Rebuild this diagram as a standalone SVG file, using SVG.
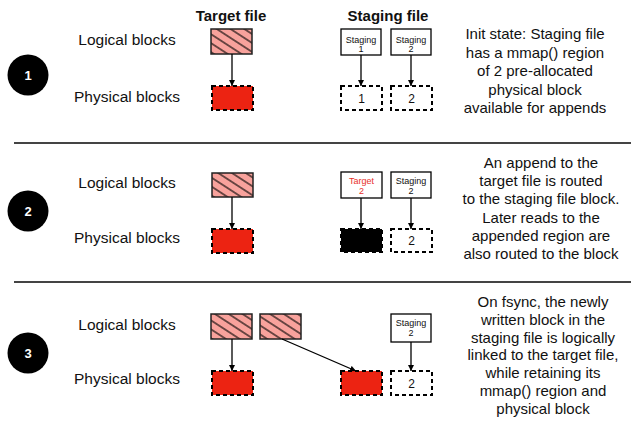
<svg xmlns="http://www.w3.org/2000/svg" width="631" height="421" viewBox="0 0 631 421">
<style>
text{font-family:"Liberation Sans",Arial,Helvetica,sans-serif;fill:#111}
.hdr{font-size:15px;font-weight:bold;text-anchor:middle}
.lbl{font-size:15.5px;text-anchor:middle}
.desc{font-size:15px;text-anchor:middle}
.num{font-size:13px;font-weight:bold;fill:#fff;text-anchor:middle}
.sm{font-size:9px;text-anchor:middle}
.dn{font-size:12px;text-anchor:middle}
.hatch{fill:url(#hatch);stroke:#222;stroke-width:1.5}
.phys{fill:#EC2312;stroke:#000;stroke-width:2;stroke-dasharray:4 3}
.empty{fill:#fff;stroke:#000;stroke-width:2;stroke-dasharray:4 3}
.black{fill:#000;stroke:#000;stroke-width:2;stroke-dasharray:4 3}
.box{fill:#fff;stroke:#000;stroke-width:1.3}
.conn{stroke:#000;stroke-width:1.3;fill:none;marker-end:url(#arr)}
.sep{stroke:#444;stroke-width:1.8}
</style>
<defs>
<pattern id="hatch" patternUnits="userSpaceOnUse" width="7.5" height="7.5" patternTransform="rotate(33)">
<rect width="7.5" height="7.5" fill="#F8A29C"/>
<line x1="0" y1="3.75" x2="7.5" y2="3.75" stroke="#000" stroke-width="1.1"/>
</pattern>
<marker id="arr" markerUnits="userSpaceOnUse" markerWidth="7" markerHeight="7" refX="6" refY="3" orient="auto">
<path d="M0,0 L6,3 L0,6 z" fill="#000"/>
</marker>
</defs>
<rect width="631" height="421" fill="#fff"/>

<g id="separators">
<line class="sep" x1="14" y1="143" x2="631" y2="143"/>
<line class="sep" x1="14" y1="282" x2="631" y2="282"/>
</g>

<g id="headers">
<text class="hdr" x="231" y="21">Target file</text>
<text class="hdr" x="388" y="21">Staging file</text>
</g>

<!-- Panel 1 -->
<g id="step1">
<circle cx="28" cy="75" r="20.5" fill="#000"/>
<text class="num" x="28" y="80">1</text>
</g>
<g id="labels1">
<text class="lbl" x="127" y="45">Logical blocks</text>
<text class="lbl" x="127" y="102">Physical blocks</text>
</g>
<g id="p1-target-logical"><rect class="hatch" x="211" y="29" width="41" height="25"/></g>
<g id="p1-target-physical"><rect class="phys" x="212" y="86" width="41" height="24"/></g>
<g id="p1-staging1"><rect class="box" x="341" y="29" width="40" height="26"/><text class="sm" x="361" y="42.5">Staging</text><text class="sm" x="361" y="51.5">1</text></g>
<g id="p1-staging2"><rect class="box" x="391" y="29" width="40" height="26"/><text class="sm" x="411" y="42.5">Staging</text><text class="sm" x="411" y="51.5">2</text></g>
<g id="p1-phys1"><rect class="empty" x="341" y="86" width="41" height="24"/><text class="dn" x="361.5" y="102.5">1</text></g>
<g id="p1-phys2"><rect class="empty" x="391" y="86" width="41" height="24"/><text class="dn" x="411.5" y="102.5">2</text></g>
<g id="desc1">
<text class="desc" x="535" y="39">Init state: Staging file</text>
<text class="desc" x="535" y="57.5">has a mmap() region</text>
<text class="desc" x="535" y="76">of 2 pre-allocated</text>
<text class="desc" x="535" y="94.5">physical block</text>
<text class="desc" x="535" y="113">available for appends</text>
</g>

<!-- Panel 2 -->
<g id="step2">
<circle cx="28" cy="211" r="20.5" fill="#000"/>
<text class="num" x="28" y="216">2</text>
</g>
<g id="labels2">
<text class="lbl" x="127" y="188">Logical blocks</text>
<text class="lbl" x="127" y="243">Physical blocks</text>
</g>
<g id="p2-target-logical"><rect class="hatch" x="212" y="173" width="41" height="24"/></g>
<g id="p2-target-physical"><rect class="phys" x="212" y="229" width="41" height="24"/></g>
<g id="p2-target2"><rect class="box" x="341" y="172" width="41" height="26"/><text class="sm" x="361.5" y="184" style="fill:#E8302A">Target</text><text class="sm" x="361.5" y="193.5" style="fill:#E8302A">2</text></g>
<g id="p2-staging2"><rect class="box" x="391" y="172" width="40" height="26"/><text class="sm" x="411" y="184">Staging</text><text class="sm" x="411" y="193.5">2</text></g>
<g id="p2-phys1"><rect class="black" x="341" y="229" width="41" height="23"/></g>
<g id="p2-phys2"><rect class="empty" x="391" y="229" width="41" height="23"/><text class="dn" x="411.5" y="245">2</text></g>
<g id="desc2">
<text class="desc" x="541" y="168">An append to the</text>
<text class="desc" x="541" y="186.2">target file is routed</text>
<text class="desc" x="541" y="204.4">to the staging file block.</text>
<text class="desc" x="541" y="222.6">Later reads to the</text>
<text class="desc" x="541" y="240.8">appended region are</text>
<text class="desc" x="541" y="259">also routed to the block</text>
</g>

<!-- Panel 3 -->
<g id="step3">
<circle cx="28" cy="353" r="20.5" fill="#000"/>
<text class="num" x="28" y="358">3</text>
</g>
<g id="labels3">
<text class="lbl" x="127" y="330">Logical blocks</text>
<text class="lbl" x="127" y="384">Physical blocks</text>
</g>
<g id="p3-target-logical1"><rect class="hatch" x="211" y="314" width="41" height="25"/></g>
<g id="p3-target-logical2"><rect class="hatch" x="260" y="314" width="41" height="25"/></g>
<g id="p3-target-physical"><rect class="phys" x="212" y="371" width="41" height="24"/></g>
<g id="p3-phys1"><rect class="phys" x="341" y="371" width="41" height="24"/></g>
<g id="p3-staging2"><rect class="box" x="391" y="314" width="40" height="28"/><text class="sm" x="411" y="326">Staging</text><text class="sm" x="411" y="335.5">2</text></g>
<g id="p3-phys2"><rect class="empty" x="391" y="371" width="41" height="24"/><text class="dn" x="411.5" y="387.5">2</text></g>
<g id="desc3">
<text class="desc" x="543" y="307">On fsync, the newly</text>
<text class="desc" x="543" y="324.8">written block in the</text>
<text class="desc" x="543" y="342.6">staging file is logically</text>
<text class="desc" x="543" y="360.4">linked to the target file,</text>
<text class="desc" x="543" y="378.2">while retaining its</text>
<text class="desc" x="543" y="396">mmap() region and</text>
<text class="desc" x="543" y="413.8">physical block</text>
</g>

<g id="connectors">
<line class="conn" x1="232" y1="54" x2="232" y2="86"/>
<line class="conn" x1="361" y1="55" x2="361" y2="86"/>
<line class="conn" x1="411" y1="55" x2="411" y2="86"/>
<line class="conn" x1="232" y1="197" x2="232" y2="229"/>
<line class="conn" x1="361" y1="198" x2="361" y2="229"/>
<line class="conn" x1="411" y1="198" x2="411" y2="229"/>
<line class="conn" x1="232" y1="339" x2="232" y2="371"/>
<line class="conn" x1="282" y1="339" x2="356" y2="371"/>
<line class="conn" x1="411" y1="342" x2="411" y2="371"/>
</g>
</svg>
